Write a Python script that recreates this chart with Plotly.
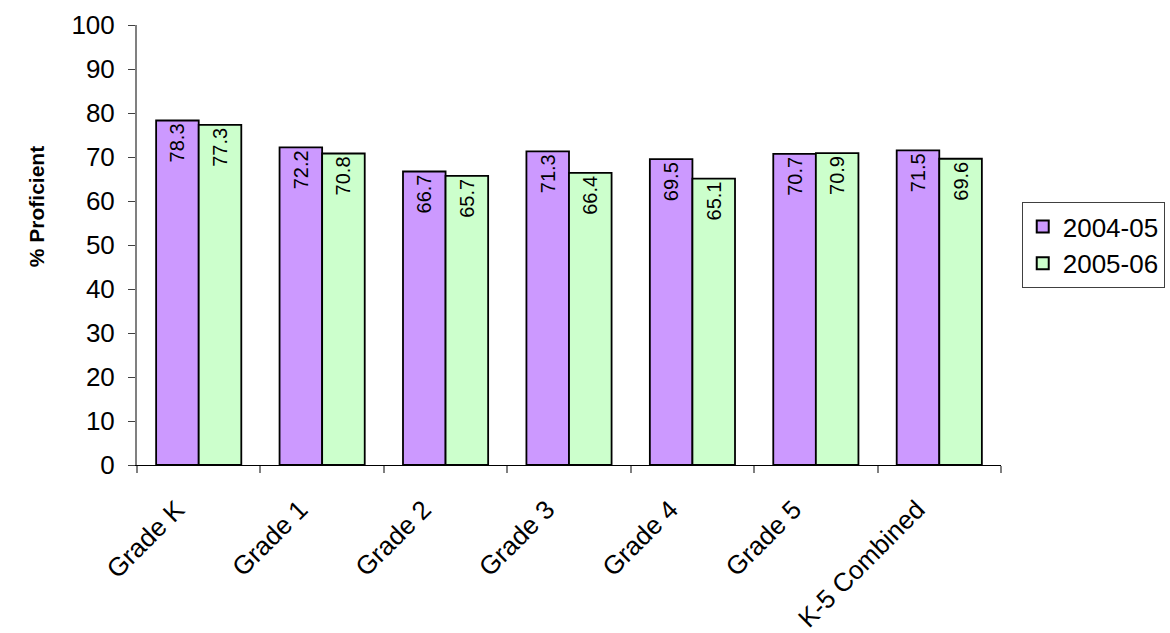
import plotly.graph_objects as go

categories = ["Grade K", "Grade 1", "Grade 2", "Grade 3", "Grade 4", "Grade 5", "K-5 Combined"]
series_2004_05 = [78.3, 72.2, 66.7, 71.3, 69.5, 70.7, 71.5]
series_2005_06 = [77.3, 70.8, 65.7, 66.4, 65.1, 70.9, 69.6]
y_ticks = [0, 10, 20, 30, 40, 50, 60, 70, 80, 90, 100]

label_font = dict(family="Liberation Sans Narrow, Arial Narrow, Liberation Sans, Arial",
                  size=20, color="black")

fig = go.Figure()
for name, vals, color in [("2004-05", series_2004_05, "#cc99ff"),
                          ("2005-06", series_2005_06, "#ccffcc")]:
    fig.add_trace(go.Bar(
        name=name, x=categories, y=vals,
        marker=dict(color=color, line=dict(color="black", width=1.8)),
        text=[f"{v:.1f}" for v in vals],
        textposition="inside", insidetextanchor="end",
        textangle=-90, textfont=label_font,
        cliponaxis=False,
    ))

fig.update_layout(
    width=1170, height=633,
    margin=dict(l=137, r=169, t=25, b=168, autoexpand=False),
    paper_bgcolor="white", plot_bgcolor="white",
    barmode="group", bargap=0.31, bargroupgap=0,
    font=dict(family="Liberation Sans, Arial", size=26, color="black"),
    showlegend=True,
    legend=dict(
        x=1.024, y=0.5, xanchor="left", yanchor="middle",
        bgcolor="white", bordercolor="#404040", borderwidth=1,
        font=dict(size=26), itemsizing="constant",
    ),
    xaxis=dict(
        automargin=False,
        showline=True, linecolor="black", linewidth=1,
        ticks="outside", tickcolor="#808080", ticklen=7, tickwidth=2,
        tickson="boundaries", tickangle=-45,
        ticklabelstandoff=18, ticklabelshift=-22,
        tickfont=dict(size=26), showgrid=False,
    ),
    yaxis=dict(
        automargin=False,
        range=[0, 100], tickvals=y_ticks,
        showline=True, linecolor="#808080", linewidth=2,
        ticks="outside", tickcolor="#404040", ticklen=7,
        ticklabelstandoff=8,
        tickfont=dict(size=26), showgrid=False, zeroline=False,
    ),
    annotations=[dict(
        text="<b>% Proficient</b>", textangle=-90,
        xref="paper", yref="paper", x=0, y=0.586,
        xanchor="center", yanchor="middle", xshift=-101,
        showarrow=False, font=dict(size=21, color="black"),
    )],
)

fig.write_html("out.html")
